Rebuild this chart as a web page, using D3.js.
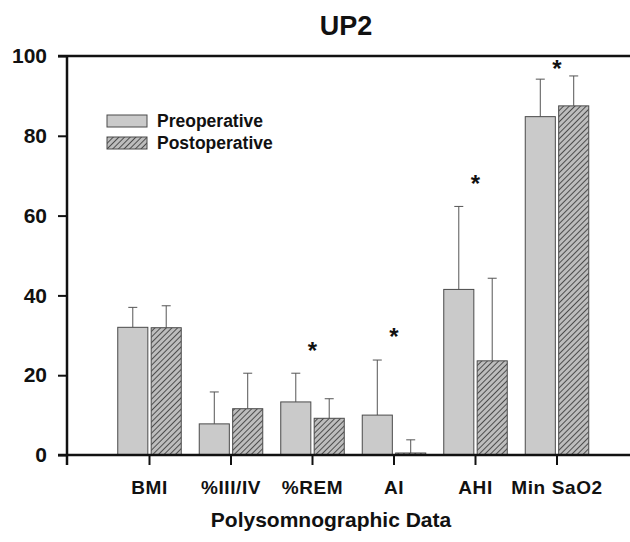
<!DOCTYPE html>
<html>
<head>
<meta charset="utf-8">
<script src="https://cdn.jsdelivr.net/npm/d3@7"></script>
<style>
  body { margin: 0; background: #fff; }
  svg { display: block; font-family: "Liberation Sans", Arial, sans-serif; font-weight: bold; }
</style>
</head>
<body>
<div id="chart"></div>
<script>
// Data
const categories = ['BMI', '%III/IV', '%REM', 'AI', 'AHI', 'Min SaO2'];
const preValues  = [32.0, 7.8, 13.3, 10.0, 41.5, 84.8];
const preSD      = [5.0, 8.0, 7.2, 13.8, 20.8, 9.4];
const postValues = [31.9, 11.6, 9.2, 0.5, 23.6, 87.5];
const postSD     = [5.5, 8.9, 4.9, 3.3, 20.7, 7.5];
const starLevels = [null, null, 26.6, 30.2, 68.3, 97.2];
const yTicks     = [0, 20, 40, 60, 80, 100];
const seriesNames = ['Preoperative', 'Postoperative'];

const width = 630, height = 542;
const svg = d3.select('#chart').append('svg')
    .attr('width', width)
    .attr('height', height);

// hatch pattern for postoperative bars
const defs = svg.append('defs');
const pat = defs.append('pattern')
    .attr('id', 'hatch')
    .attr('patternUnits', 'userSpaceOnUse')
    .attr('width', 4)
    .attr('height', 4)
    .attr('patternTransform', 'rotate(45)');
pat.append('rect').attr('width', 4).attr('height', 4).attr('fill', '#bdbdbd');
pat.append('line')
    .attr('x1', 0).attr('y1', 0).attr('x2', 0).attr('y2', 4)
    .attr('stroke', '#383838').attr('stroke-width', 1.7);

const y = d3.scaleLinear().domain([0, 100]).range([455, 56]);
const x = d3.scaleBand().domain(categories).range([108.75, 597.75]);
const xSub = d3.scaleBand().domain(seriesNames).range([9, x.bandwidth() - 9]).paddingInner(0.1);

const fills = { 'Preoperative': '#cacaca', 'Postoperative': 'url(#hatch)' };

const rows = categories.map((c, i) => ({
    cat: c,
    bars: [
        { s: 'Preoperative', v: preValues[i], sd: preSD[i] },
        { s: 'Postoperative', v: postValues[i], sd: postSD[i] }
    ]
}));

// bars
const groups = svg.selectAll('.grp')
    .data(rows)
    .enter().append('g')
    .attr('class', 'grp')
    .attr('transform', d => `translate(${x(d.cat)},0)`);

// error bars (drawn first so the bar covers the stem base)
groups.selectAll('.err')
    .data(d => d.bars)
    .enter().append('g')
    .attr('class', 'err')
    .each(function(d) {
        const g = d3.select(this);
        const cx = xSub(d.s) + xSub.bandwidth() / 2;
        g.append('line')
            .attr('x1', cx).attr('x2', cx)
            .attr('y1', y(d.v)).attr('y2', y(d.v + d.sd))
            .attr('stroke', '#555').attr('stroke-width', 1);
        g.append('line')
            .attr('x1', cx - 4.5).attr('x2', cx + 4.5)
            .attr('y1', y(d.v + d.sd)).attr('y2', y(d.v + d.sd))
            .attr('stroke', '#555').attr('stroke-width', 1);
    });

groups.selectAll('.bar')
    .data(d => d.bars)
    .enter().append('rect')
    .attr('class', 'bar')
    .attr('x', d => xSub(d.s))
    .attr('width', xSub.bandwidth())
    .attr('y', d => y(d.v))
    .attr('height', d => y(0) - y(d.v))
    .attr('fill', d => fills[d.s])
    .attr('stroke', '#4a4a4a')
    .attr('stroke-width', 1);

// significance stars
svg.selectAll('.star')
    .data(categories.map((c, i) => ({ cat: c, lv: starLevels[i] })).filter(d => d.lv !== null))
    .enter().append('text')
    .attr('class', 'star')
    .attr('x', d => x(d.cat) + x.bandwidth() / 2)
    .attr('y', d => y(d.lv) + 10)
    .attr('text-anchor', 'middle')
    .attr('font-size', 24)
    .attr('fill', '#111')
    .text('*');

// y axis
const yAxis = svg.append('g')
    .attr('transform', 'translate(67,0)')
    .call(d3.axisLeft(y).tickValues(yTicks).tickSize(9).tickPadding(11).tickSizeOuter(0));
yAxis.select('.domain').remove();
yAxis.selectAll('.tick line').attr('stroke', '#111').attr('stroke-width', 2);
yAxis.selectAll('.tick text')
    .attr('font-size', 21)
    .attr('font-weight', 'bold')
    .attr('font-family', '"Liberation Sans", Arial, sans-serif')
    .attr('fill', '#111');
svg.append('line')
    .attr('x1', 67).attr('x2', 67)
    .attr('y1', y(100)).attr('y2', y(0) + 10)
    .attr('stroke', '#111').attr('stroke-width', 2.5);

// x axis
const xAxis = svg.append('g')
    .attr('transform', `translate(0,${y(0)})`)
    .call(d3.axisBottom(x).tickSize(10).tickSizeOuter(0).tickFormat(''));
xAxis.select('.domain').remove();
xAxis.selectAll('.tick line').attr('stroke', '#111').attr('stroke-width', 2);
svg.append('line')
    .attr('x1', 58).attr('x2', width)
    .attr('y1', y(0)).attr('y2', y(0))
    .attr('stroke', '#111').attr('stroke-width', 2.5);
// top frame line
svg.append('line')
    .attr('x1', 58).attr('x2', width)
    .attr('y1', y(100)).attr('y2', y(100))
    .attr('stroke', '#111').attr('stroke-width', 2.5);

// category labels
svg.selectAll('.cat')
    .data(categories)
    .enter().append('text')
    .attr('class', 'cat')
    .attr('x', d => x(d) + x.bandwidth() / 2)
    .attr('y', 494)
    .attr('text-anchor', 'middle')
    .attr('font-size', 19)
    .attr('letter-spacing', 0.6)
    .attr('fill', '#111')
    .text(d => d);

// axis title
svg.append('text')
    .attr('x', 331).attr('y', 527)
    .attr('text-anchor', 'middle')
    .attr('font-size', 21)
    .attr('fill', '#111')
    .text('Polysomnographic Data');

// chart title
svg.append('text')
    .attr('x', 346).attr('y', 35)
    .attr('text-anchor', 'middle')
    .attr('font-size', 27)
    .attr('fill', '#111')
    .text('UP2');

// legend
const legend = svg.selectAll('.leg')
    .data(seriesNames)
    .enter().append('g')
    .attr('class', 'leg')
    .attr('transform', (d, i) => `translate(107,${115 + i * 22})`);
legend.append('rect')
    .attr('width', 40).attr('height', 12)
    .attr('fill', d => fills[d])
    .attr('stroke', '#4a4a4a').attr('stroke-width', 1);
legend.append('text')
    .attr('x', 50).attr('y', 12)
    .attr('font-size', 17.5)
    .attr('fill', '#111')
    .text(d => d);
</script>
</body>
</html>
